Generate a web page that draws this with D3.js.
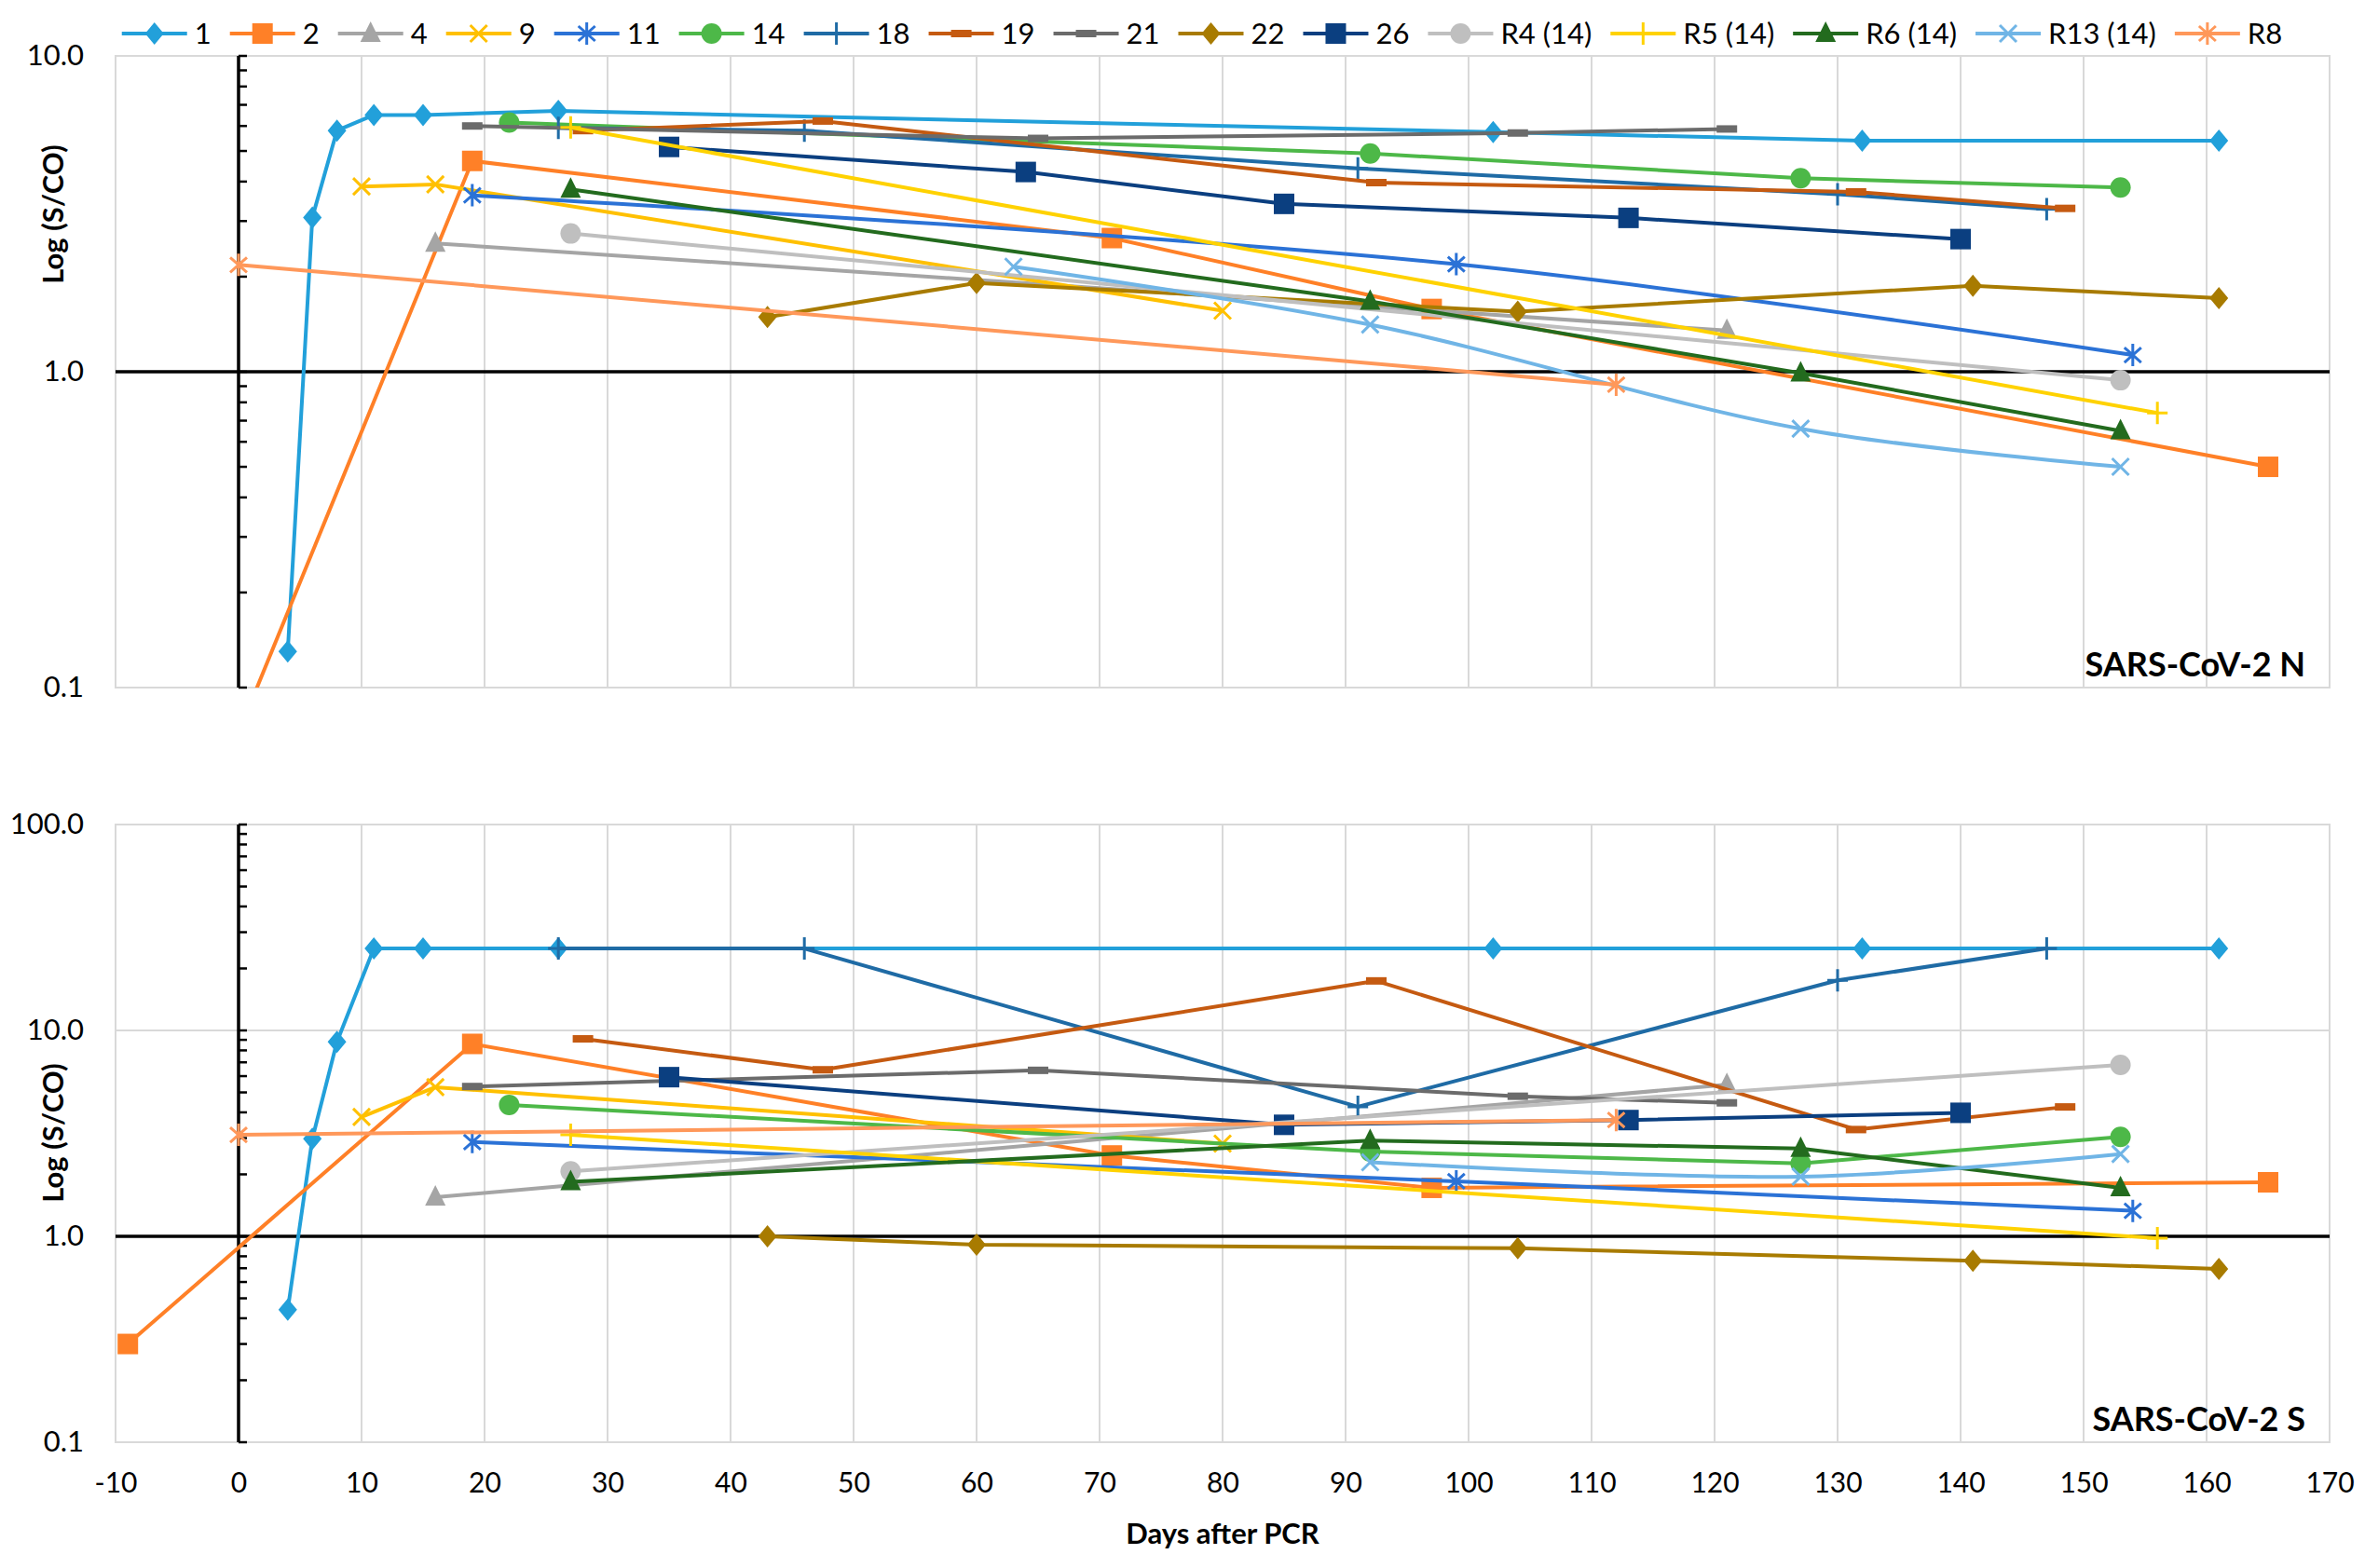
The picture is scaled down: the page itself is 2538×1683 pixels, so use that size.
<!DOCTYPE html>
<html>
<head>
<meta charset="utf-8">
<script src="https://cdn.jsdelivr.net/npm/d3@7"></script>
<style>
    body { margin: 0; background: #fff; }
    text { font-family: Lato, "Open Sans", sans-serif; fill: #000; }
</style>
</head>
<body>
<div id="chart-area"></div>
<script>
// Series (patients)
var seriesNames = ["1", "2", "4", "9", "11", "14", "18", "19", "21", "22", "26",
                   "R4 (14)", "R5 (14)", "R6 (14)", "R13 (14)", "R8"];

// SARS-CoV-2 N : days after PCR / S/CO per series
var nDays = [
    [4, 6, 8, 11, 15, 26, 102, 132, 161],
    [-9, 19, 71, 97, 165],
    [16, 121],
    [10, 16, 80],
    [19, 99, 154],
    [22, 92, 127, 153],
    [26, 46, 91, 130, 147],
    [28, 47.5, 92.5, 131.5, 148.5],
    [19, 65, 104, 121],
    [43, 60, 104, 141, 161],
    [35, 64, 85, 113, 140],
    [27, 153],
    [27, 156],
    [27, 92, 127, 153],
    [63, 92, 127, 153],
    [0, 112]
];
var nValues = [
    [0.13, 3.08, 5.8, 6.5, 6.5, 6.7, 5.74, 5.39, 5.39],
    [0.01, 4.65, 2.65, 1.58, 0.5],
    [2.55, 1.35],
    [3.86, 3.92, 1.56],
    [3.62, 2.19, 1.13],
    [6.15, 4.91, 4.1, 3.83],
    [5.92, 5.8, 4.4, 3.65, 3.27],
    [5.8, 6.22, 3.97, 3.71, 3.29],
    [6.0, 5.48, 5.7, 5.87],
    [1.49, 1.91, 1.55, 1.87, 1.71],
    [5.15, 4.29, 3.4, 3.07, 2.63],
    [2.74, 0.94],
    [5.94, 0.74],
    [3.78, 1.67, 0.99, 0.65],
    [2.15, 1.41, 0.66, 0.5],
    [2.18, 0.91]
];

// SARS-CoV-2 S
var sDays = [
    [4, 6, 8, 11, 15, 26, 102, 132, 161],
    [-9, 19, 71, 97, 165],
    [16, 121],
    [10, 16, 80],
    [19, 99, 154],
    [22, 92, 127, 153],
    [26, 46, 91, 130, 147],
    [28, 47.5, 92.5, 131.5, 148.5],
    [19, 65, 104, 121],
    [43, 60, 104, 141, 161],
    [35, 85, 113, 140],
    [27, 153],
    [27, 156],
    [27, 92, 127, 153],
    [92, 127, 153],
    [0, 112]
];
var sValues = [
    [0.44, 2.98, 8.8, 25, 25, 25, 25, 25, 25],
    [0.3, 8.6, 2.47, 1.72, 1.83],
    [1.55, 5.45],
    [3.8, 5.3, 2.82],
    [2.87, 1.85, 1.33],
    [4.35, 2.58, 2.26, 3.04],
    [25, 25, 4.26, 17.5, 25],
    [9.1, 6.44, 17.4, 3.3, 4.25],
    [5.34, 6.4, 4.79, 4.45],
    [1.0, 0.91, 0.875, 0.76, 0.695],
    [5.93, 3.48, 3.67, 3.98],
    [2.07, 6.8],
    [3.11, 0.98],
    [1.84, 2.92, 2.67, 1.72],
    [2.29, 1.95, 2.51],
    [3.11, 3.67]
];

// tick labels
var xTicks = [-10, 0, 10, 20, 30, 40, 50, 60, 70, 80, 90, 100, 110, 120, 130, 140, 150, 160, 170];
var nTicks = [0.1, 1, 10];
var sTicks = [0.1, 1, 10, 100];

// styles
var seriesColors = ["#22A0DA", "#FF8027", "#A5A5A5", "#FFC000", "#2B72D6", "#4DB848", "#1F6BA5",
                    "#C55A11", "#6B6B6B", "#A87B00", "#0B3F80", "#BFBFBF", "#FFD200", "#236B1E",
                    "#70B5E6", "#FF985A"];
var seriesMarkers = ["diamond", "square", "triangle", "x", "star", "circle", "plus", "dash", "dash",
                     "diamond", "square", "circle", "plus", "triangle", "x", "star"];
var smoothSeries = ["11", "R13 (14)"];

var width = 2538, height = 1683;

var svg = d3.select("#chart-area")
    .append("svg")
        .attr("width", width)
        .attr("height", height);

// X Scale
var x = d3.scaleLinear()
    .domain([-10, 170])
    .range([124, 2500]);

// Y Scales
var yN = d3.scaleLog().domain([0.1, 10]).range([738, 60]);
var yS = d3.scaleLog().domain([0.1, 100]).range([1548, 885]);

function drawMarker(sel, type, color) {
    if (type == "diamond") {
        sel.append("path").attr("d", "M0,-12L10,0L0,12L-10,0Z").attr("fill", color);
    } else if (type == "square") {
        sel.append("rect").attr("x", -11).attr("y", -11).attr("width", 22).attr("height", 22).attr("fill", color);
    } else if (type == "triangle") {
        sel.append("path").attr("d", "M0,-13L11,9L-11,9Z").attr("fill", color);
    } else if (type == "circle") {
        sel.append("circle").attr("r", 11).attr("fill", color);
    } else if (type == "x") {
        sel.append("path").attr("d", "M-9,-9L9,9M-9,9L9,-9")
            .attr("stroke", color).attr("stroke-width", 3).attr("fill", "none");
    } else if (type == "star") {
        sel.append("path").attr("d", "M-9,-8L9,8M-9,8L9,-8M0,-12L0,12")
            .attr("stroke", color).attr("stroke-width", 3).attr("fill", "none");
    } else if (type == "plus") {
        sel.append("path").attr("d", "M-11,0L11,0M0,-12L0,12")
            .attr("stroke", color).attr("stroke-width", 3).attr("fill", "none");
    } else if (type == "dash") {
        sel.append("rect").attr("x", -11).attr("y", -4).attr("width", 22).attr("height", 8).attr("fill", color);
    }
}

function drawPanel(id, y, days, values, ticks, label, showX) {
    var top = y.range()[1], bottom = y.range()[0];
    var left = x.range()[0], right = x.range()[1];
    var g = svg.append("g");

    g.append("clipPath").attr("id", "clip-" + id)
        .append("rect")
            .attr("x", left).attr("y", top)
            .attr("width", right - left).attr("height", bottom - top);

    // grid
    g.selectAll(".vgrid").data(xTicks.filter(function(d){ return d != 0; }))
        .enter().append("line")
            .attr("x1", function(d){ return x(d); })
            .attr("x2", function(d){ return x(d); })
            .attr("y1", top).attr("y2", bottom)
            .attr("stroke", "#D9D9D9").attr("stroke-width", 2);
    g.selectAll(".hgrid").data(ticks)
        .enter().append("line")
            .attr("x1", left).attr("x2", right)
            .attr("y1", function(d){ return y(d); })
            .attr("y2", function(d){ return y(d); })
            .attr("stroke", "#D9D9D9").attr("stroke-width", 2);
    g.append("rect")
        .attr("x", left).attr("y", top)
        .attr("width", right - left).attr("height", bottom - top)
        .attr("fill", "none").attr("stroke", "#D9D9D9").attr("stroke-width", 2);

    // line at 1.0
    g.append("line")
        .attr("x1", left).attr("x2", right)
        .attr("y1", y(1)).attr("y2", y(1))
        .attr("stroke", "#000").attr("stroke-width", 3.5);

    // y axis at day 0 with log minor ticks
    var minor = [];
    ticks.slice(0, -1).forEach(function(d){
        for (var m = 1; m <= 9; m++) minor.push(d * m);
    });
    minor.push(ticks[ticks.length - 1]);
    g.append("line")
        .attr("x1", x(0)).attr("x2", x(0))
        .attr("y1", top).attr("y2", bottom)
        .attr("stroke", "#000").attr("stroke-width", 3.5);
    g.selectAll(".minor").data(minor)
        .enter().append("line")
            .attr("x1", x(0)).attr("x2", x(0) + 9)
            .attr("y1", function(d){ return y(d); })
            .attr("y2", function(d){ return y(d); })
            .attr("stroke", "#000").attr("stroke-width", 2.5);

    // Y labels
    var yAxisCall = d3.axisLeft(y)
        .tickValues(ticks)
        .tickSize(0)
        .tickPadding(34)
        .tickFormat(d3.format(".1f"));
    var ya = g.append("g")
        .attr("transform", "translate(" + left + ",0)")
        .call(yAxisCall);
    ya.select(".domain").remove();
    ya.selectAll("text").attr("font-size", "31px").attr("font-family", "Lato, sans-serif");

    // X labels
    if (showX) {
        var xAxisCall = d3.axisBottom(x)
            .tickValues(xTicks)
            .tickSize(0)
            .tickPadding(33)
            .tickFormat(function(d){ return String(d); });
        var xa = g.append("g")
            .attr("transform", "translate(0," + bottom + ")")
            .call(xAxisCall);
        xa.select(".domain").remove();
        xa.selectAll("text").attr("font-size", "30px").attr("font-family", "Lato, sans-serif");
    }

    // series
    var plot = g.append("g").attr("clip-path", "url(#clip-" + id + ")");
    seriesNames.forEach(function(name, i) {
        var pts = days[i].map(function(d, j){ return [d, values[i][j]]; });
        var line = d3.line()
            .x(function(d){ return x(d[0]); })
            .y(function(d){ return y(d[1]); })
            .curve(smoothSeries.indexOf(name) >= 0 ? d3.curveCatmullRom.alpha(0.5) : d3.curveLinear);
        plot.append("path")
            .attr("d", line(pts))
            .attr("fill", "none")
            .attr("stroke", seriesColors[i])
            .attr("stroke-width", 4)
            .attr("stroke-linejoin", "round");
        pts.forEach(function(p) {
            var m = plot.append("g")
                .attr("transform", "translate(" + x(p[0]) + "," + y(p[1]) + ")");
            drawMarker(m, seriesMarkers[i], seriesColors[i]);
        });
    });

    // panel label
    g.append("text")
        .attr("x", 2474).attr("y", bottom - 12)
        .attr("text-anchor", "end")
        .attr("font-size", "36px")
        .attr("font-weight", "bold")
        .text(label);

    // Y title
    g.append("text")
        .attr("transform", "translate(68," + (id == "n" ? 230 : 1216) + ") rotate(-90)")
        .attr("text-anchor", "middle")
        .attr("font-size", "31px")
        .attr("font-weight", "bold")
        .text("Log (S/CO)");
}

drawPanel("n", yN, nDays, nValues, nTicks, "SARS-CoV-2 N", false);
drawPanel("s", yS, sDays, sValues, sTicks, "SARS-CoV-2 S", true);

// X title
svg.append("text")
    .attr("x", (x.range()[0] + x.range()[1]) / 2)
    .attr("y", 1657)
    .attr("text-anchor", "middle")
    .attr("font-size", "31px")
    .attr("font-weight", "bold")
    .text("Days after PCR");

// Legend
var legend = svg.append("g").attr("transform", "translate(0,36)");
var lx = 0;
seriesNames.forEach(function(name, i) {
    var it = legend.append("g");
    it.append("line")
        .attr("x1", 0).attr("x2", 70)
        .attr("stroke", seriesColors[i]).attr("stroke-width", 4);
    var m = it.append("g").attr("transform", "translate(35,0)");
    drawMarker(m, seriesMarkers[i], seriesColors[i]);
    var t = it.append("text")
        .attr("x", 78).attr("y", 0)
        .attr("dy", "0.35em")
        .attr("font-size", "31px")
        .text(name);
    it.attr("transform", "translate(" + lx + ",0)");
    lx += 78 + t.node().getComputedTextLength() + 20;
});
var total = lx - 20;
legend.attr("transform", "translate(" + (1290 - total / 2) + ",36)");
</script>
</body>
</html>
